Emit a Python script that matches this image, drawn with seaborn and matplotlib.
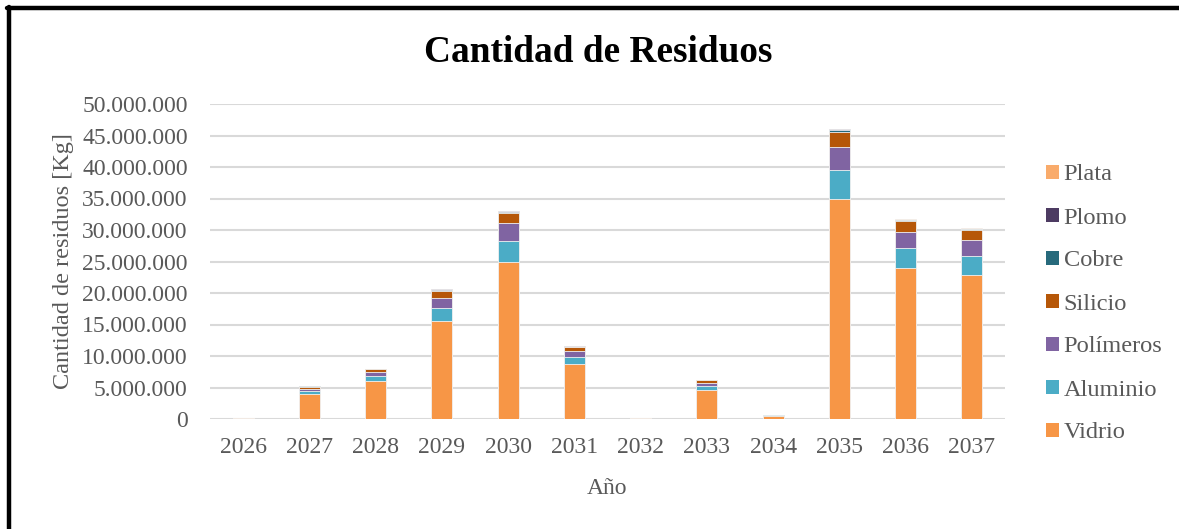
import matplotlib
matplotlib.use("Agg")
import matplotlib.pyplot as plt
import matplotlib.ticker as mticker
from matplotlib.patches import Patch
from matplotlib.lines import Line2D
import seaborn as sns
import pandas as pd
import numpy as np

# ---- data (kg) ----
years = ["2026", "2027", "2028", "2029", "2030", "2031", "2032", "2033", "2034", "2035", "2036", "2037"]
vidrio    = [150000, 4000000, 6000000, 15500000, 25000000, 8750000, 150000, 4650000, 550000, 35000000, 24000000, 22900000]
aluminio  = [20000, 400000, 800000, 2050000, 3300000, 1150000, 20000, 600000, 70000, 4600000, 3200000, 3050000]
polimeros = [20000, 350000, 650000, 1700000, 2750000, 900000, 20000, 480000, 50000, 3650000, 2500000, 2430000]
silicio   = [10000, 350000, 420000, 1100000, 1600000, 600000, 10000, 400000, 30000, 2300000, 1650000, 1550000]
cobre     = [3000, 60000, 80000, 200000, 250000, 90000, 3000, 60000, 8000, 320000, 220000, 200000]
plomo     = [1000, 20000, 30000, 70000, 100000, 30000, 1000, 20000, 3000, 120000, 80000, 70000]
plata     = [1000, 10000, 20000, 50000, 60000, 20000, 1000, 10000, 2000, 70000, 50000, 50000]

series_names = ["Vidrio", "Aluminio", "Polímeros", "Silicio", "Cobre", "Plomo", "Plata"]
series_vals = [vidrio, aluminio, polimeros, silicio, cobre, plomo, plata]
colors = ["#F79646", "#4BACC6", "#8064A2", "#B65708", "#276A7C", "#4D3B62", "#F9AB6B"]

df = pd.DataFrame({"Año": years})
for n, v in zip(series_names, series_vals):
    df[n] = v
cum = df[series_names].cumsum(axis=1)

sns.set_style("white")
plt.rcParams["font.family"] = ["Liberation Serif", "DejaVu Serif"]
text_color = "#595959"

fig = plt.figure(figsize=(11.79, 5.29), dpi=100)
ax = fig.add_axes([210/1179, 1-419/529, (1005-210)/1179, (419-104)/529])

# draw cumulative from top down so stacks overlay
for n, c in reversed(list(zip(series_names, colors))):
    sns.barplot(x=df["Año"], y=cum[n], color=c, ax=ax, width=0.32,
                edgecolor="#f2f2f2", linewidth=0.6, saturation=1, zorder=3)

ax.set_ylim(0, 50000000)
ax.set_xlim(-0.5, len(years)-0.5)
ax.yaxis.set_major_locator(mticker.MultipleLocator(5000000))
ax.yaxis.set_major_formatter(mticker.FuncFormatter(lambda v, p: f"{int(round(v)):,}".replace(",", ".")))
ax.grid(axis="y", color="#D9D9D9", linewidth=1.5, zorder=0)
ax.set_axisbelow(True)
for s in ax.spines.values():
    s.set_visible(False)
ax.tick_params(axis="both", length=0, labelsize=17, colors=text_color)
ax.tick_params(axis="y", pad=16)
ax.tick_params(axis="x", pad=13)
ax.set_xlabel("Año", fontsize=17, color=text_color, labelpad=14)
ax.set_ylabel("Cantidad de residuos [Kg]", fontsize=17.5, color=text_color, labelpad=6)

fig.text(598/1179, 1-52/529, "Cantidad de Residuos", ha="center", va="center",
         fontsize=26.8, fontweight="bold", color="black")

handles = [Patch(facecolor=c, edgecolor="none", label=n) for n, c in zip(series_names, colors)][::-1]
leg = fig.legend(handles=handles, loc="center left", bbox_to_anchor=(1046/1179, 1-304/529),
                 frameon=False, fontsize=17.6, handlelength=0.52, handleheight=0.52,
                 handletextpad=0.2, labelspacing=0.9, borderpad=0, borderaxespad=0)
for t in leg.get_texts():
    t.set_color(text_color)

# outer frame (top and left edges)
fig.add_artist(Line2D([7/1179, 1], [1-8/529, 1-8/529], color="black", linewidth=3.2, transform=fig.transFigure))
fig.add_artist(Line2D([9.5/1179, 9.5/1179], [0, 1-6.5/529], color="black", linewidth=3.2, transform=fig.transFigure))

fig.savefig("out.png", dpi=100)
